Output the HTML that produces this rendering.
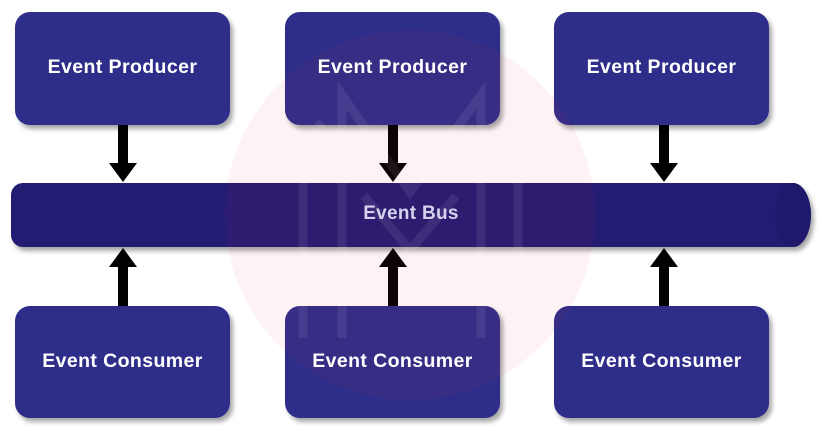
<!DOCTYPE html>
<html><head><meta charset="utf-8"><style>
html,body{margin:0;padding:0;background:#fff;}
svg{display:block;}
.bx{font-family:"Liberation Sans",sans-serif;font-weight:bold;font-size:19.5px;fill:#fff;letter-spacing:0.4px;}
.bus{font-family:"Liberation Sans",sans-serif;font-weight:bold;font-size:19px;fill:#d6d2ee;letter-spacing:0.3px;}
</style></head><body>
<svg width="822" height="431" viewBox="0 0 822 431" xmlns="http://www.w3.org/2000/svg">
<defs>
<filter id="sh" x="-10%" y="-10%" width="130%" height="140%">
<feGaussianBlur in="SourceAlpha" stdDeviation="2.5"/>
<feOffset dx="3" dy="4" result="b"/>
<feComponentTransfer><feFuncA type="linear" slope="0.35"/></feComponentTransfer>
<feMerge><feMergeNode/><feMergeNode in="SourceGraphic"/></feMerge>
</filter>
</defs>
<rect width="822" height="431" fill="#fff"/>
<g filter="url(#sh)" fill="#2e2d8a">
<rect x="15" y="12" width="215" height="113" rx="15"/>
<rect x="285" y="12" width="215" height="113" rx="15"/>
<rect x="554" y="12" width="215" height="113" rx="15"/>
<rect x="15" y="306" width="215" height="112" rx="15"/>
<rect x="285" y="306" width="215" height="112" rx="15"/>
<rect x="554" y="306" width="215" height="112" rx="15"/>
</g>
<g filter="url(#sh)">
<path d="M23 183 H793 A18 32 0 0 1 793 247 H23 A12 12 0 0 1 11 235 V195 A12 12 0 0 1 23 183 Z" fill="#231f72"/>
</g>
<ellipse cx="793" cy="215" rx="18" ry="32" fill="#1e196a"/>
<g fill="#000">
<rect x="118" y="125" width="10" height="38"/><polygon points="109,163 137,163 123,182"/>
<rect x="388" y="125" width="10" height="38"/><polygon points="379,163 407,163 393,182"/>
<rect x="659" y="125" width="10" height="38"/><polygon points="650,163 678,163 664,182"/>
<rect x="118" y="267" width="10" height="39"/><polygon points="109,267 137,267 123,248"/>
<rect x="388" y="267" width="10" height="39"/><polygon points="379,267 407,267 393,248"/>
<rect x="659" y="267" width="10" height="39"/><polygon points="650,267 678,267 664,248"/>
</g>
<circle cx="410" cy="215" r="185" fill="rgb(225,40,70)" fill-opacity="0.06"/>
<g stroke="#fff" stroke-opacity="0.08" stroke-width="9" fill="none">
<path d="M303 338 V145 L322 122"/>
<path d="M342 338 V95 L410 192 L481 95 V338"/>
<path d="M518 338 V125"/>
<path d="M364 196 L410 250 L456 196"/>
</g>
<text class="bx" x="122.5" y="73" text-anchor="middle">Event Producer</text>
<text class="bx" x="392.5" y="73" text-anchor="middle">Event Producer</text>
<text class="bx" x="661.5" y="73" text-anchor="middle">Event Producer</text>
<text class="bx" x="122.5" y="367" text-anchor="middle">Event Consumer</text>
<text class="bx" x="392.5" y="367" text-anchor="middle">Event Consumer</text>
<text class="bx" x="661.5" y="367" text-anchor="middle">Event Consumer</text>
<text class="bus" x="411" y="219" text-anchor="middle">Event Bus</text>
</svg>
</body></html>
